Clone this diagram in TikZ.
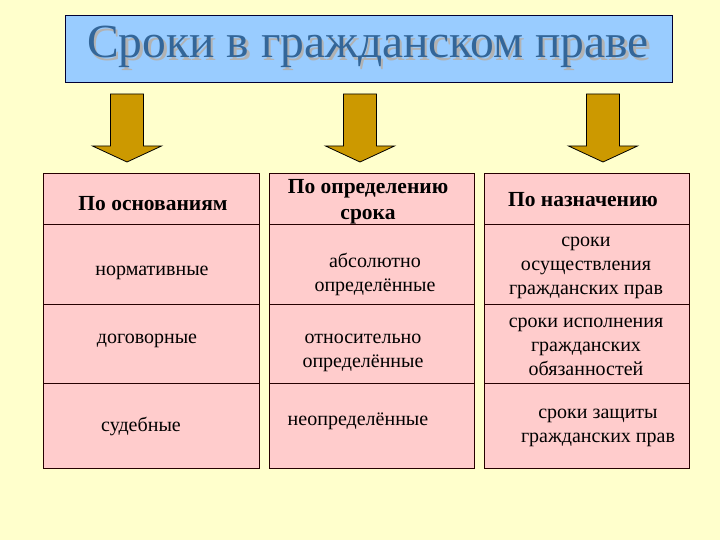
\documentclass[tikz,border=0pt]{standalone}
\usepackage{fontspec}
\setmainfont{Liberation Serif}
\usepackage{tikz}

\definecolor{paper}{HTML}{FFFFCC}
\definecolor{titleblue}{HTML}{99CCFF}
\definecolor{titleink}{HTML}{336699}
\definecolor{cellpink}{HTML}{FFCCCC}
\definecolor{arrowgold}{HTML}{CC9900}

\tikzset{
  cellbox/.style={draw=black!85!red, line width=0.9pt, fill=cellpink, anchor=north west, inner sep=0pt},
  celltext/.style={align=center, inner sep=1pt, font=\fontsize{20}{24}\selectfont},
  headtext/.style={align=center, inner sep=1pt, font=\fontsize{21.5}{26}\selectfont\bfseries},
  titlefont/.style={anchor=base, inner sep=0pt, font=\fontsize{47.5}{50}\selectfont},
}

% block arrow pointing down, centred at x = #1
\newcommand{\blockarrow}[1]{%
  \draw[fill=arrowgold, line width=0.8pt, line join=miter]
    ({#1-16.5},94) -- ({#1+16.5},94) -- ({#1+16.5},146) -- ({#1+34.5},146)
    -- (#1,162) -- ({#1-34.5},146) -- ({#1-16.5},146) -- cycle;}

\begin{document}
\begin{tikzpicture}[x=1pt,y=-1pt]

    % ================= BACKGROUND =================
    \fill[paper] (0,0) rectangle (720,540);
    \useasboundingbox (0,0) rectangle (720,540);

    % ================= TITLE =================
    \node[draw=black!80!blue, line width=0.9pt, fill=titleblue, anchor=north west,
          minimum width=607pt, minimum height=67pt] (title) at (65,15) {};
    \node[titlefont, text=black!30] (titleshadow) at (370.5,60.5) {Сроки в гражданском праве};
    \node[titlefont, text=titleink] (titletext) at (368,58) {Сроки в гражданском праве};

    % ================= ARROWS =================
    \blockarrow{127}
    \blockarrow{360}
    \blockarrow{603}

    % ================= LEFT TABLE =================
    \node[cellbox, minimum width=216pt, minimum height=51pt] (h1) at (43,173) {};
    \node[cellbox, minimum width=216pt, minimum height=80pt] (a1) at (43,224) {};
    \node[cellbox, minimum width=216pt, minimum height=79pt] (b1) at (43,304) {};
    \node[cellbox, minimum width=216pt, minimum height=85pt] (c1) at (43,383) {};

    \node[headtext] (h1text) at (153,204) {По основаниям};
    \node[celltext] (a1text) at (152,273) {нормативные};
    \node[celltext] (b1text) at (147,341) {договорные};
    \node[celltext] (c1text) at (141,426) {судебные};

    % ================= MIDDLE TABLE =================
    \node[cellbox, minimum width=205pt, minimum height=51pt] (h2) at (269,173) {};
    \node[cellbox, minimum width=205pt, minimum height=80pt] (a2) at (269,224) {};
    \node[cellbox, minimum width=205pt, minimum height=79pt] (b2) at (269,304) {};
    \node[cellbox, minimum width=205pt, minimum height=85pt] (c2) at (269,383) {};

    \node[headtext] (h2text) at (368,202) {По определению\\срока};
    \node[celltext] (a2text) at (375,274) {абсолютно\\определённые};
    \node[celltext] (b2text) at (363,353) {относительно\\определённые};
    \node[celltext] (c2text) at (358,421) {неопределённые};

    % ================= RIGHT TABLE =================
    \node[cellbox, minimum width=205pt, minimum height=51pt] (h3) at (484,173) {};
    \node[cellbox, minimum width=205pt, minimum height=80pt] (a3) at (484,224) {};
    \node[cellbox, minimum width=205pt, minimum height=79pt] (b3) at (484,304) {};
    \node[cellbox, minimum width=205pt, minimum height=85pt] (c3) at (484,383) {};

    \node[headtext] (h3text) at (583,200) {По назначению};
    \node[celltext] (a3text) at (586,268) {сроки\\осуществления\\гражданских прав};
    \node[celltext] (b3text) at (586,347) {сроки исполнения\\гражданских\\обязанностей};
    \node[celltext] (c3text) at (598,428) {сроки защиты\\гражданских прав};

\end{tikzpicture}
\end{document}
